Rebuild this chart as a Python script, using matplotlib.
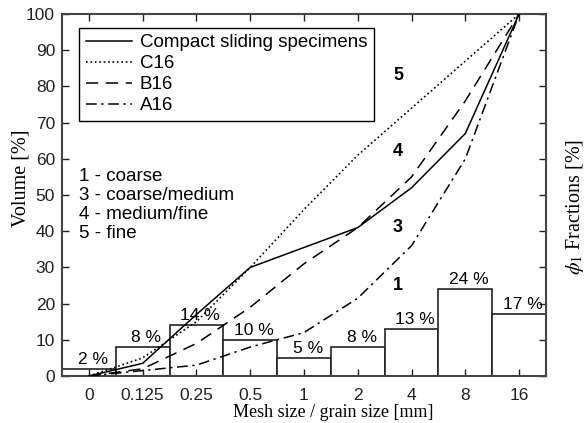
import numpy as np
import matplotlib
matplotlib.use('Agg')
from matplotlib import pyplot as plt

plt.rcParams['font.family'] = ['Liberation Sans', 'DejaVu Sans']
plt.rcParams['mathtext.fontset'] = 'stix'

# grain size classes (mm) and data
mesh_labels = ['0', '0.125', '0.25', '0.5', '1', '2', '4', '8', '16']
fractions = [2, 8, 14, 10, 5, 8, 13, 24, 17]

compact = [0, 3.5, 17, 30, 35.5, 41, 52, 67, 100]
c16 = [0, 5, 15, 30, 46, 61, 74, 87, 100]
b16 = [0, 2, 9, 19, 31, 41, 55, 76, 100]
a16 = [0, 1.5, 3, 8, 12, 21.5, 36, 60, 100]

zone_text = ['1 - coarse', '3 - coarse/medium', '4 - medium/fine', '5 - fine']
zone_nums = ['5', '4', '3', '1']
zone_y = [83, 62, 41, 25]

W, H = 587, 423
fig = plt.figure(figsize=(W / 100, H / 100), dpi=100)
ax = fig.add_axes([62 / W, 1 - 376 / H, (546 - 62) / W, (376 - 14) / H])

x = np.arange(len(mesh_labels))

ax.bar(x, fractions, width=1.0, color='white', edgecolor='#222222', linewidth=1.2, zorder=1)
for xi, v in zip(x, fractions):
    ax.text(xi + 0.07, v + 0.6, f'{v} %', ha='center', va='bottom', fontsize=12.5, zorder=4)

ax.plot(x, compact, '-', color='black', lw=1.1, label='Compact sliding specimens', zorder=3)
ax.plot(x, c16, ':', color='black', lw=1.2, label='C16', zorder=3)
ax.plot(x, b16, color='black', lw=1.1, dashes=(8, 5), label='B16', zorder=3)
ax.plot(x, a16, color='black', lw=1.1, dashes=(7, 3, 1.5, 3), label='A16', zorder=3)

ax.set_xlim(-0.5, 8.5)
ax.set_ylim(0, 100)
ax.set_xticks(x)
ax.set_xticklabels(mesh_labels)
ax.set_yticks(np.arange(0, 101, 10))
ax.tick_params(direction='in', length=5, width=1.0, labelsize=12.5, colors='#222222',
               top=True, right=True, pad=5)
ax.tick_params(axis='x', pad=9)
for sp in ax.spines.values():
    sp.set_linewidth(1.5)
    sp.set_color('#444444')

leg = ax.legend(loc='upper left', bbox_to_anchor=(0.035, 0.962), borderaxespad=0,
                fontsize=13.5, handlelength=2.5, handletextpad=0.4, labelspacing=0.2,
                fancybox=False, framealpha=1, edgecolor='black', borderpad=0.35)
leg.get_frame().set_linewidth(1.0)

ax.text(0.035, 0.575, '\n'.join(zone_text), transform=ax.transAxes, fontsize=13.5,
        va='top', ha='left', linespacing=1.15)
for t, yv in zip(zone_nums, zone_y):
    ax.text(5.75, yv, t, fontsize=13, fontweight='bold', ha='center', va='center')

fig.text(21 / W, 1 - 178 / H, 'Volume [%]', rotation=90, ha='center', va='center',
         family='Liberation Serif', fontsize=14.5)
fig.text(333 / W, 1 - 412 / H, 'Mesh size / grain size [mm]', ha='center', va='center',
         family='Liberation Serif', fontsize=13)
fig.text(575 / W, 1 - 207 / H, r'$\phi_1$ Fractions [%]', rotation=90, ha='center', va='center',
         family='Liberation Serif', fontsize=14.5)

fig.savefig('out.png', dpi=100)
